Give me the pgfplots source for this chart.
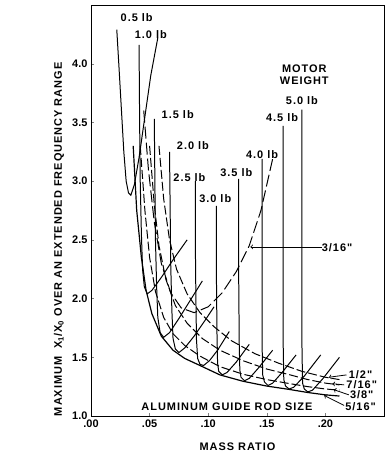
\documentclass[border=0pt]{standalone}
\usepackage{fontspec}
\setmainfont{Liberation Sans}
\newfontfamily\lblfont[LetterSpace=9]{Liberation Sans}
\usepackage{pgfplots}
\pgfplotsset{compat=1.18}
\newcommand\lf{\lblfont\bfseries\fontsize{11}{13}\selectfont}
\pgfplotsset{mw/.style={black, solid, mark=none, line width=1pt}}
\begin{document}
\begin{tikzpicture}
\begin{axis}[
  scale only axis, width=293bp, height=411bp,
  xmin=0, xmax=0.25, ymin=1, ymax=4.5,
  xtick={0,0.05,0.10,0.15,0.20}, xticklabels={.00,.05,.10,.15,.20},
  ytick={1,1.5,2,2.5,3,3.5,4}, yticklabels={1.0,1.5,2.0,2.5,3.0,3.5,4.0},
  xtick pos=bottom, ytick pos=left, tick align=inside, major tick length=3bp,
  tick label style={font=\bfseries\fontsize{11}{13}\selectfont},
  axis line style={line width=0.9pt},
  ylabel={MAXIMUM\ \ X\textsubscript{1}/X\textsubscript{0} OVER AN EXTENDED FREQUENCY RANGE},
  ylabel style={font=\lf, at={(axis description cs:-0.109,0.43)}, anchor=center},
  xlabel={MASS RATIO},
  xlabel style={font=\lf, at={(axis description cs:0.5,-0.075)}, anchor=center},
  clip=false,
]
% motor weight curves
\addplot[mw] coordinates {(0.022,4.29)(0.024,3.95)(0.026,3.6)(0.028,3.25)(0.030,3.0)(0.032,2.90)(0.034,2.88)(0.037,2.97)(0.041,3.20)(0.046,3.55)(0.051,3.9)(0.057,4.22)};
\addplot[mw] coordinates {(0.041,4.16)(0.0415,3.5)(0.042,3.0)(0.043,2.55)(0.044,2.25)(0.0455,2.10)(0.048,2.04)(0.052,2.07)(0.060,2.18)(0.070,2.33)(0.082,2.50)};
\addplot[mw] coordinates {(0.054,3.53)(0.0545,3.0)(0.055,2.5)(0.056,2.1)(0.057,1.84)(0.059,1.71)(0.062,1.67)(0.067,1.71)(0.075,1.83)(0.085,1.99)(0.095,2.15)};
\addplot[mw] coordinates {(0.067,3.25)(0.0675,2.8)(0.068,2.3)(0.069,1.9)(0.070,1.66)(0.072,1.57)(0.075,1.54)(0.080,1.58)(0.088,1.68)(0.097,1.81)(0.105,1.93)};
\addplot[mw] coordinates {(0.089,3.0)(0.089,2.5)(0.0895,2.0)(0.090,1.65)(0.091,1.49)(0.093,1.44)(0.096,1.43)(0.101,1.47)(0.108,1.56)(0.118,1.72)};
\addplot[mw] coordinates {(0.107,2.79)(0.107,2.2)(0.1075,1.7)(0.108,1.45)(0.109,1.38)(0.112,1.35)(0.116,1.37)(0.124,1.46)(0.135,1.61)};
\addplot[mw] coordinates {(0.126,3.02)(0.126,2.2)(0.1265,1.6)(0.127,1.39)(0.128,1.33)(0.131,1.30)(0.135,1.32)(0.143,1.41)(0.155,1.56)};
\addplot[mw] coordinates {(0.146,3.19)(0.146,2.2)(0.146,1.6)(0.1465,1.35)(0.148,1.29)(0.151,1.26)(0.155,1.28)(0.163,1.37)(0.175,1.52)};
\addplot[mw] coordinates {(0.164,3.47)(0.164,2.2)(0.164,1.6)(0.1645,1.31)(0.166,1.255)(0.169,1.23)(0.173,1.245)(0.182,1.34)(0.196,1.52)};
\addplot[mw] coordinates {(0.180,3.61)(0.180,2.2)(0.180,1.6)(0.1805,1.28)(0.182,1.23)(0.185,1.205)(0.189,1.22)(0.198,1.32)(0.212,1.50)};
% rod size curves
\addplot[mw, line width=1.2pt] coordinates {(0.036,3.3)(0.039,2.75)(0.043,2.35)(0.047,2.07)(0.052,1.87)(0.060,1.68)(0.070,1.56)(0.080,1.49)(0.093,1.43)(0.110,1.35)(0.130,1.295)(0.150,1.255)(0.170,1.225)(0.185,1.200)(0.200,1.18)(0.212,1.17)};
\addplot[mw, dash pattern=on 9bp off 3bp] coordinates {(0.042,3.3)(0.046,2.75)(0.050,2.35)(0.055,2.06)(0.062,1.84)(0.070,1.70)(0.080,1.60)(0.093,1.51)(0.110,1.42)(0.130,1.355)(0.150,1.31)(0.170,1.275)(0.185,1.25)(0.200,1.23)(0.212,1.22)};
\addplot[mw, dash pattern=on 9bp off 3bp] coordinates {(0.050,3.3)(0.054,2.8)(0.058,2.45)(0.064,2.16)(0.072,1.94)(0.082,1.79)(0.095,1.66)(0.110,1.56)(0.130,1.47)(0.150,1.40)(0.170,1.35)(0.185,1.31)(0.200,1.28)(0.212,1.265)};
\addplot[mw, dash pattern=on 9bp off 3bp] coordinates {(0.058,3.3)(0.062,2.85)(0.067,2.5)(0.073,2.25)(0.082,2.04)(0.093,1.88)(0.105,1.76)(0.120,1.64)(0.140,1.53)(0.160,1.45)(0.180,1.38)(0.200,1.33)(0.212,1.31)};
\addplot[mw, dash pattern=on 12bp off 4bp] coordinates {(0.045,3.6)(0.049,3.1)(0.054,2.65)(0.060,2.30)(0.068,2.05)(0.077,1.92)(0.088,1.88)(0.100,1.93)(0.112,2.05)(0.124,2.23)(0.135,2.45)(0.145,2.75)(0.155,3.19)};
% labels
\node[font=\lf] at (axis cs:0.039,4.39) {0.5 lb};
\node[font=\lf] at (axis cs:0.051,4.25) {1.0 lb};
\node[font=\lf] at (axis cs:0.074,3.57) {1.5 lb};
\node[font=\lf] at (axis cs:0.087,3.30) {2.0 lb};
\node[font=\lf] at (axis cs:0.084,3.03) {2.5 lb};
\node[font=\lf] at (axis cs:0.106,2.85) {3.0 lb};
\node[font=\lf] at (axis cs:0.124,3.07) {3.5 lb};
\node[font=\lf] at (axis cs:0.146,3.23) {4.0 lb};
\node[font=\lf] at (axis cs:0.163,3.54) {4.5 lb};
\node[font=\lf] at (axis cs:0.180,3.69) {5.0 lb};
\node[font=\lf, align=center, inner sep=0pt] at (axis cs:0.182,3.91) {MOTOR\\[-1pt]WEIGHT};
\node[font=\lf] at (axis cs:0.116,1.08) {ALUMINUM GUIDE ROD SIZE};
\node[font=\lf] at (axis cs:0.210,2.43) {3/16"};
\draw[->, line width=0.8pt] (axis cs:0.197,2.44) -- (axis cs:0.136,2.44);
\node[font=\lf] at (axis cs:0.230,1.35) {1/2"};
\node[font=\lf] at (axis cs:0.231,1.265) {7/16"};
\node[font=\lf] at (axis cs:0.231,1.18) {3/8"};
\node[font=\lf] at (axis cs:0.230,1.08) {5/16"};
\draw[->, line width=0.8pt] (axis cs:0.218,1.35) -- (axis cs:0.203,1.33);
\draw[->, line width=0.8pt] (axis cs:0.216,1.265) -- (axis cs:0.206,1.275);
\draw[->, line width=0.8pt] (axis cs:0.220,1.18) -- (axis cs:0.207,1.225);
\draw[->, line width=0.8pt] (axis cs:0.216,1.09) -- (axis cs:0.199,1.175);
\end{axis}
\pgfresetboundingbox
\path ([shift={(-91bp,-43bp)}]current axis.south west) rectangle ([shift={(2bp,5bp)}]current axis.north east);
\end{tikzpicture}
\end{document}
